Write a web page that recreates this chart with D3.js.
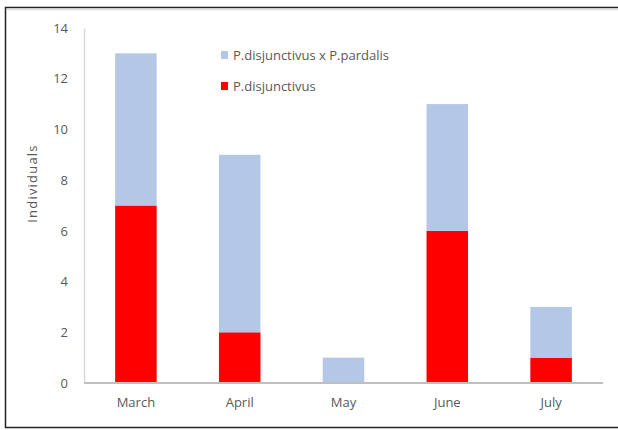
<!DOCTYPE html>
<html>
<head>
<meta charset="utf-8">
<script src="https://cdn.jsdelivr.net/npm/d3@7"></script>
<style>
  body { margin: 0; background: #fff; }
  svg { display: block; font-family: "Open Sans", sans-serif; }
</style>
</head>
<body>
<div id="chart"></div>
<script>
// stacked bars: individuals per month
const months = ['March', 'April', 'May', 'June', 'July'];
const disjunctivus = [7, 2, 0, 6, 1];
const hybrid = [6, 7, 1, 5, 2];
const yTicks = [0, 2, 4, 6, 8, 10, 12, 14];
const seriesNames = ['P.disjunctivus x P.pardalis', 'P.disjunctivus'];

const width = 618, height = 430;
const margin = { top: 28, right: 15, bottom: 47, left: 84 };

const svg = d3.select('#chart').append('svg')
  .attr('width', width).attr('height', height);

// outer frame
svg.append('rect')
  .attr('x', 5.5).attr('y', 7.5)
  .attr('width', 620).attr('height', 420)
  .attr('fill', 'none').attr('stroke', '#222').attr('stroke-width', 1.5);
svg.append('line')
  .attr('x1', 7).attr('x2', width).attr('y1', 9.5).attr('y2', 9.5)
  .attr('stroke', '#ddd').attr('stroke-width', 1.5);

const x = d3.scaleBand().domain(months)
  .range([margin.left, width - margin.right]).paddingInner(0.6).paddingOuter(0.3);
const y = d3.scaleLinear().domain([0, 14]).range([height - margin.bottom, margin.top]);

const rows = months.map((m, i) => ({ month: m, red: disjunctivus[i], blue: hybrid[i] }));
const stack = d3.stack().keys(['red', 'blue'])(rows);
const colors = { red: '#ff0000', blue: '#b4c7e7' };

svg.append('g').selectAll('g').data(stack).join('g')
  .attr('fill', d => colors[d.key])
  .selectAll('rect').data(d => d).join('rect')
  .attr('x', d => x(d.data.month))
  .attr('width', x.bandwidth())
  .attr('y', d => y(d[1]))
  .attr('height', d => y(d[0]) - y(d[1]));

// y axis
const yAxis = svg.append('g').attr('transform', `translate(${margin.left},0)`)
  .call(d3.axisLeft(y).tickValues(yTicks).tickSize(0).tickPadding(16));
yAxis.select('.domain').attr('stroke', '#d9d9d9').attr('stroke-width', 1.5);
yAxis.selectAll('text').attr('fill', '#595959').attr('font-size', 13)
  .attr('font-family', '"Open Sans", sans-serif');

// x axis
const xAxis = svg.append('g').attr('transform', `translate(0,${y(0)})`)
  .call(d3.axisBottom(x).tickSize(0).tickPadding(15));
xAxis.select('.domain').attr('stroke', '#bfbfbf').attr('stroke-width', 2)
  .attr('d', `M${margin.left},0H${width - margin.right}`);
xAxis.selectAll('text').attr('fill', '#595959').attr('font-size', 13)
  .attr('font-family', '"Open Sans", sans-serif');

// axis title
svg.append('text')
  .attr('transform', `translate(37,${(y(0) + y(14)) / 2 - 22}) rotate(-90)`)
  .attr('text-anchor', 'middle')
  .attr('fill', '#595959').attr('font-size', 13)
  .attr('letter-spacing', 1.2)
  .text('Individuals');

// legend
const legend = svg.append('g').selectAll('g')
  .data([{ name: seriesNames[0], c: colors.blue }, { name: seriesNames[1], c: colors.red }])
  .join('g')
  .attr('transform', (d, i) => `translate(221,${55 + i * 31})`);
legend.append('rect').attr('x', 0).attr('y', -4).attr('width', 7).attr('height', 8).attr('fill', d => d.c);
legend.append('text').attr('x', 12).attr('dy', '0.35em')
  .attr('fill', '#595959').attr('font-size', 13)
  .text(d => d.name);
</script>
</body>
</html>
